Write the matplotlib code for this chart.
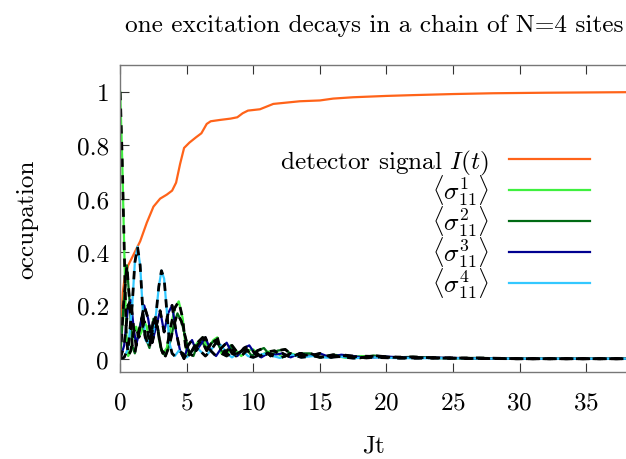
#!/usr/bin/env python3
"""Occupation dynamics of a single excitation in an N=4 chain with a detector."""

import matplotlib as mpl

mpl.use("Agg")
import matplotlib.pyplot as plt

for k, v in {
    "font.family": "serif",
    "font.serif": ["cmr10", "DejaVu Serif"],
    "mathtext.fontset": "cm",
    "axes.formatter.use_mathtext": True,
    "axes.unicode_minus": False,
    "font.size": 18.2,
}.items():
    mpl.rcParams[k] = v

# ---- data (t in units of 1/J) ----
T_DET = [0, 0.1, 0.2, 0.35, 0.6, 1.0, 1.5, 2.0, 2.5, 3.0, 3.5, 3.9, 4.2, 4.5,
         4.8, 5.2, 5.7, 6.1, 6.5, 6.8, 7.5, 8.3, 8.8, 9.2, 9.6, 10.5, 11.0,
         11.5, 12.5, 13.5, 15, 16, 17.5, 19, 20, 22, 25, 28, 32, 35, 38]
DETECTOR = [0, 0.15, 0.25, 0.31, 0.35, 0.39, 0.44, 0.51, 0.57, 0.60, 0.615,
            0.63, 0.66, 0.73, 0.79, 0.81, 0.83, 0.845, 0.88, 0.89, 0.895, 0.90,
            0.905, 0.92, 0.93, 0.935, 0.945, 0.955, 0.96, 0.965, 0.968, 0.975,
            0.98, 0.983, 0.985, 0.988, 0.992, 0.995, 0.997, 0.998, 0.999]

T_S1 = [0, 0.15, 0.3, 0.45, 0.6, 0.8, 1.0, 1.2, 1.4, 1.6, 1.8, 2.0, 2.2, 2.4,
        2.6, 2.8, 3.0, 3.2, 3.5, 3.8, 4.1, 4.4, 4.7, 4.9, 5.1, 5.4, 5.8, 6.2,
        6.6, 7.0, 7.3, 7.6, 8.0, 8.4, 8.7, 9.1, 9.5, 10, 10.5, 11, 11.6, 12.2,
        12.8, 13.5, 14.2, 15, 16, 17, 18, 19.5, 21, 23, 26, 30, 38]
SITE1 = [1.0, 0.75, 0.42, 0.10, 0.01, 0.03, 0.10, 0.12, 0.08, 0.10, 0.14,
         0.12, 0.06, 0.10, 0.15, 0.12, 0.05, 0.02, 0.04, 0.12, 0.19, 0.215,
         0.15, 0.05, 0.01, 0.03, 0.06, 0.08, 0.04, 0.07, 0.08, 0.02, 0.01,
         0.05, 0.03, 0.01, 0.03, 0.035, 0.01, 0.025, 0.03, 0.005, 0.02, 0.01,
         0.015, 0.005, 0.012, 0.003, 0.01, 0.008, 0.003, 0.004, 0.001, 0, 0]

T_S2 = [0, 0.25, 0.5, 0.7, 0.9, 1.1, 1.3, 1.6, 1.9, 2.2, 2.5, 2.8, 3.1, 3.4,
        3.7, 4.0, 4.3, 4.6, 4.9, 5.2, 5.5, 5.8, 6.1, 6.5, 6.9, 7.2, 7.6, 7.9,
        8.3, 8.7, 9.1, 9.5, 9.9, 10.3, 10.8, 11.3, 11.8, 12.4, 13, 13.6, 14.3,
        15, 16, 17, 18, 19, 20.5, 22, 24, 27, 30, 38]
SITE2 = [0, 0.20, 0.35, 0.22, 0.05, 0.02, 0.08, 0.15, 0.08, 0.04, 0.15, 0.12,
         0.03, 0.01, 0.05, 0.12, 0.17, 0.14, 0.08, 0.02, 0.01, 0.05, 0.07,
         0.03, 0.06, 0.07, 0.03, 0.02, 0.05, 0.01, 0.03, 0.035, 0.01, 0.03,
         0.04, 0.01, 0.03, 0.035, 0.01, 0.02, 0.02, 0.005, 0.015, 0.01, 0.003,
         0.012, 0.005, 0.007, 0.002, 0.003, 0, 0]

T_S3 = [0, 0.3, 0.6, 0.8, 1.0, 1.2, 1.5, 1.8, 2.1, 2.4, 2.7, 3.0, 3.3, 3.6,
        3.9, 4.2, 4.5, 4.8, 5.1, 5.4, 5.7, 6.0, 6.4, 6.8, 7.2, 7.6, 8.0, 8.4,
        8.8, 9.3, 9.7, 10.1, 10.6, 11.1, 11.6, 12.2, 12.8, 13.5, 14.2, 15,
        15.8, 16.6, 17.5, 18.5, 20, 22, 24, 27, 30, 38]
SITE3 = [0, 0.05, 0.20, 0.22, 0.12, 0.05, 0.12, 0.20, 0.15, 0.06, 0.12, 0.18,
         0.10, 0.17, 0.20, 0.10, 0.03, 0.0, 0.05, 0.07, 0.03, 0.05, 0.08,
         0.03, 0.01, 0.04, 0.06, 0.02, 0.01, 0.04, 0.05, 0.02, 0.005, 0.02,
         0.015, 0.02, 0.005, 0.02, 0.01, 0.02, 0.005, 0.015, 0.01, 0.003,
         0.008, 0.003, 0.004, 0.001, 0, 0]

T_S4 = [0, 0.3, 0.6, 0.9, 1.1, 1.3, 1.5, 1.7, 1.9, 2.1, 2.3, 2.5, 2.7, 2.9,
        3.1, 3.3, 3.5, 3.7, 3.9, 4.1, 4.4, 4.7, 5.0, 5.3, 5.6, 6.0, 6.4, 6.8,
        7.2, 7.6, 8.0, 8.4, 8.8, 9.2, 9.6, 10.0, 10.5, 11, 11.5, 12, 12.5, 13,
        13.6, 14.5, 15.5, 16.5, 17.5, 19, 21, 24, 30, 38]
SITE4 = [0, 0.005, 0.04, 0.20, 0.36, 0.42, 0.35, 0.18, 0.07, 0.06, 0.08,
         0.10, 0.17, 0.27, 0.33, 0.30, 0.18, 0.06, 0.02, 0.01, 0.03, 0.02,
         0.005, 0.02, 0.05, 0.03, 0.01, 0.03, 0.06, 0.05, 0.02, 0.005, 0.02,
         0.03, 0.01, 0.005, 0.015, 0.02, 0.01, 0.003, 0.012, 0.015, 0.005,
         0.01, 0.004, 0.008, 0.002, 0.005, 0.002, 0.002, 0, 0]

SITES = [
    (T_S1, SITE1, "#3ff03f", r"$\langle\sigma^1_{11}\rangle$"),
    (T_S2, SITE2, "#006a14", r"$\langle\sigma^2_{11}\rangle$"),
    (T_S3, SITE3, "#000090", r"$\langle\sigma^3_{11}\rangle$"),
    (T_S4, SITE4, "#33c8ff", r"$\langle\sigma^4_{11}\rangle$"),
]
ORANGE = "#ff6319"


def main():
    fig = plt.figure(figsize=(6.26, 4.6), dpi=100)
    ax = fig.add_axes([0.192, 0.189, 0.808, 0.667])

    ax.plot(T_DET, DETECTOR, color=ORANGE, lw=1.6,
            label=r"detector signal $I(t)$")
    for t, y, c, lbl in SITES:
        ax.plot(t, y, color=c, lw=1.6, label=lbl)
    # comparison curves drawn dashed on top
    for t, y, _, _ in SITES:
        ax.plot(t, y, color="black", lw=2.0, ls=(0, (3, 3)))

    ax.set_xlim(0, 38)
    ax.set_ylim(-0.05, 1.1)
    ax.set_xticks([0, 5, 10, 15, 20, 25, 30, 35])
    ax.set_yticks([0, 0.2, 0.4, 0.6, 0.8, 1])
    ax.set_yticklabels(["0", "0.2", "0.4", "0.6", "0.8", "1"])
    ax.tick_params(direction="in", length=6.5, width=0.8, top=True,
                   right=False, color="#333333")
    ax.tick_params(axis="x", pad=14)
    ax.tick_params(axis="y", pad=8)
    for s in ax.spines.values():
        s.set_color("#777777")
        s.set_linewidth(1.0)
    ax.spines["right"].set_visible(False)

    ax.set_xlabel("Jt", labelpad=15)
    ax.set_ylabel("occupation", labelpad=28)

    fig.text(374 / 626, 1 - 26 / 460,
             "one excitation decays in a chain of N=4 sites",
             ha="center", va="center")

    ax.legend(loc="upper right", bbox_to_anchor=(0.949, 0.765), frameon=False,
              markerfirst=False, handlelength=3.2, labelspacing=-0.16,
              handletextpad=0.8, borderaxespad=0)

    fig.savefig("out.png", dpi=100)
    plt.close(fig)


if __name__ == "__main__":
    main()
